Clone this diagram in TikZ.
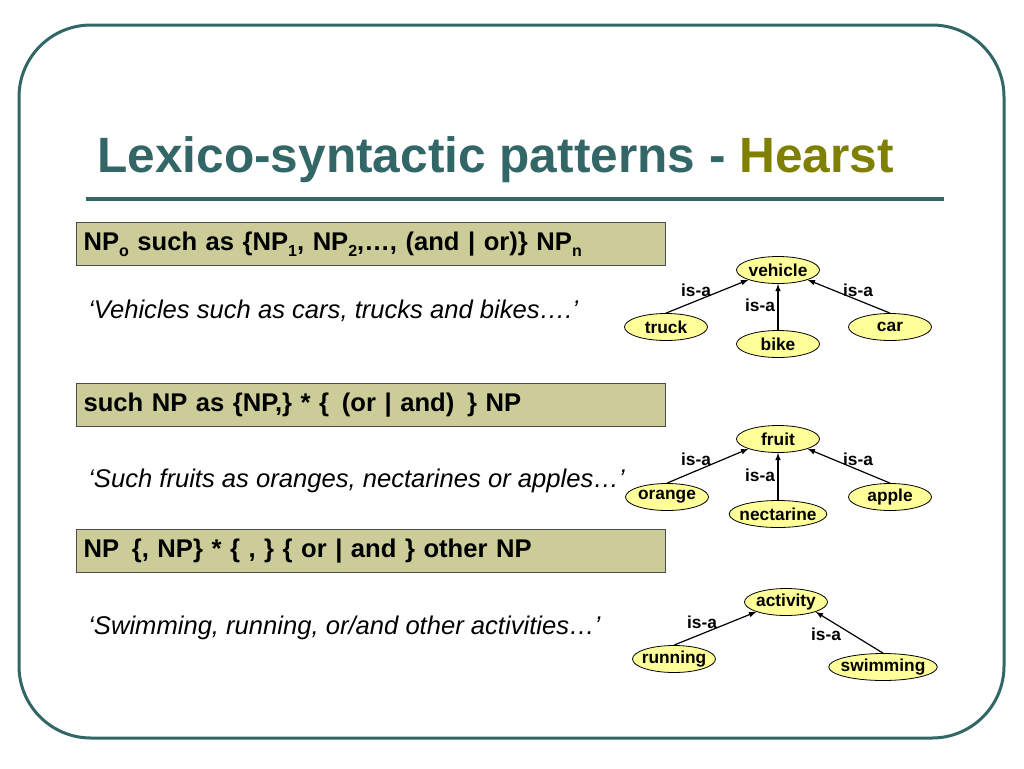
\documentclass[tikz,border=0pt]{standalone}
\usepackage{fontspec}
\setmainfont{Liberation Sans}
\usetikzlibrary{shapes, calc, arrows}

\definecolor{frameteal}{RGB}{51,102,102}
\definecolor{hearstolive}{RGB}{128,128,0}
\definecolor{patternfill}{RGB}{204,204,153}
\definecolor{conceptfill}{RGB}{255,255,153}

\newcommand{\npsub}[1]{\raisebox{-0.25em}{\fontsize{12}{12}\selectfont #1}}

\begin{document}
\begin{tikzpicture}[x=0.75pt, y=-0.75pt,
	hearstbox/.style={draw=black!70, line width=0.8pt, fill=patternfill, anchor=north west,
		minimum height=32.25pt, text width=431.25pt, inner xsep=5.25pt, align=left,
		font=\fontsize{19.2}{22}\selectfont\bfseries},
	sentence/.style={anchor=base west, inner sep=0pt, font=\fontsize{19.2}{21}\selectfont\itshape},
	conceptnode/.style={ellipse, draw=black, line width=0.6pt, fill=conceptfill, inner xsep=-3pt, inner ysep=0pt,
		minimum width=62.25pt, minimum height=20.25pt, font=\fontsize{13}{14}\selectfont\bfseries},
	isalabel/.style={inner sep=0pt, font=\fontsize{13}{14}\selectfont\bfseries},
	isaarrow/.style={-latex, line width=0.9pt, black}]

	\useasboundingbox (0,0) rectangle (1024,768);

	% frame and title
	\draw[frameteal, line width=2.25pt, rounded corners=54pt] (19,25) rectangle (1004,738);
	\node[anchor=base west, inner sep=0pt, text=frameteal, font=\fontsize{37.2}{40}\selectfont\bfseries] (title) at (97,172)
		{Lexico-syntactic patterns - \textcolor{hearstolive}{Hearst}};
	\draw[frameteal, line width=3pt] (86,199) -- (944,199);

	% patterns and examples
	\node[hearstbox] (pat1) at (76,222) {NP\npsub{o} such as \{NP\npsub{1}, NP\npsub{2},…, (and | or)\} NP\npsub{n}};
	\node[sentence] (ex1) at (88,318) {‘Vehicles such as cars, trucks and bikes….’};

	\node[hearstbox] (pat2) at (76,383) {such NP as \{NP,\} * \{ \,(or | and)\, \} NP};
	\node[sentence] (ex2) at (88,487) {‘Such fruits as oranges, nectarines or apples…’};

	\node[hearstbox] (pat3) at (76,529) {NP\ \,\{, NP\} * \{ , \} \{ or | and \} other NP};
	\node[sentence] (ex3) at (88,634) {‘Swimming, running, or/and other activities…’};

	% vehicle tree
	\node[conceptnode] (vehicle) at (778,270) {vehicle};
	\node[conceptnode] (truck) at (666,327) {truck};
	\node[conceptnode] (bike) at (778,344) {bike};
	\node[conceptnode] (car) at (890,327) {car};
	\draw[isaarrow] (truck.north) -- (vehicle.south west);
	\draw[isaarrow] (bike.north) -- (vehicle.south);
	\draw[isaarrow] (car.north) -- (vehicle.south east);
	\node[isalabel] (isa11) at (696,290) {is-a};
	\node[isalabel] (isa12) at (760,305) {is-a};
	\node[isalabel] (isa13) at (858,290) {is-a};

	% fruit tree
	\node[conceptnode] (fruit) at (778,439) {fruit};
	\node[conceptnode] (orange) at (667,497) {orange};
	\node[conceptnode] (nectarine) at (778,514) {nectarine};
	\node[conceptnode] (apple) at (890,497) {apple};
	\draw[isaarrow] (orange.north) -- (fruit.south west);
	\draw[isaarrow] (nectarine.north) -- (fruit.south);
	\draw[isaarrow] (apple.north) -- (fruit.south east);
	\node[isalabel] (isa21) at (696,459) {is-a};
	\node[isalabel] (isa22) at (760,475) {is-a};
	\node[isalabel] (isa23) at (858,459) {is-a};

	% activity tree
	\node[conceptnode] (activity) at (786,602) {activity};
	\node[conceptnode] (running) at (674,659) {running};
	\node[conceptnode] (swimming) at (883,667) {swimming};
	\draw[isaarrow] (running.north) -- (activity.south west);
	\draw[isaarrow] (swimming.north) -- (activity.south east);
	\node[isalabel] (isa31) at (702,622) {is-a};
	\node[isalabel] (isa32) at (826,634) {is-a};

\end{tikzpicture}
\end{document}
